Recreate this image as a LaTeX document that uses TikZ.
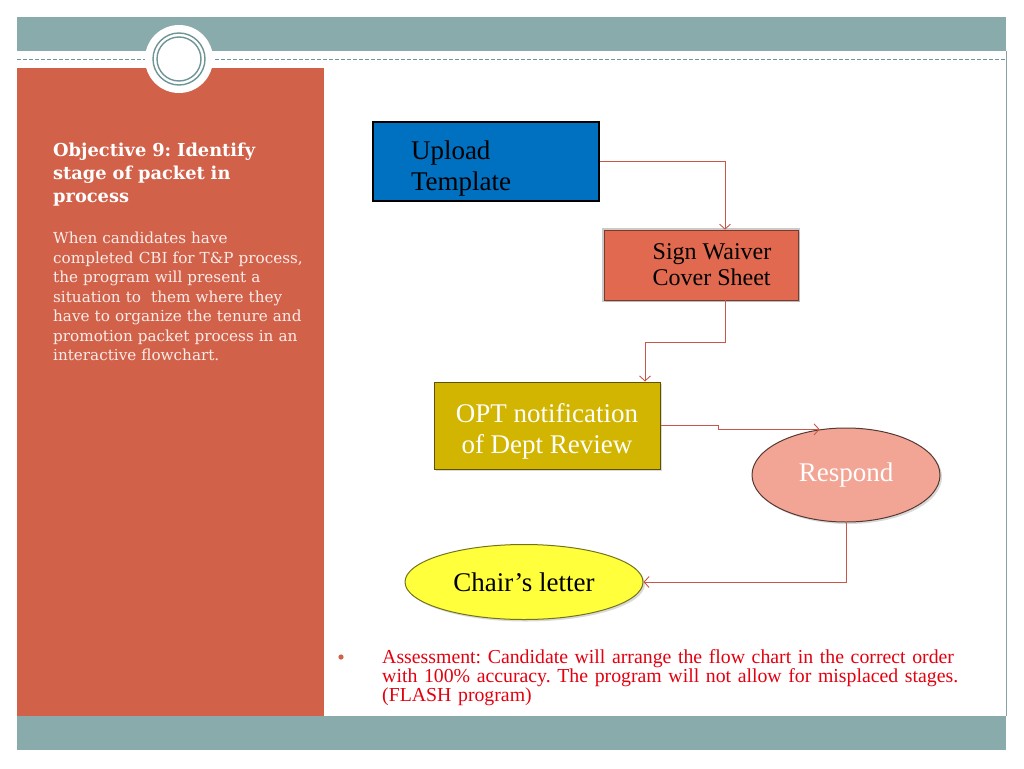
\documentclass[tikz,border=0pt]{standalone}
\usepackage{fontspec}
\setmainfont{Liberation Serif}
\newfontfamily\panelfont{DejaVu Serif}
\usetikzlibrary{arrows.meta,shapes.geometric,shadows}
\definecolor{bandteal}{HTML}{8AABAB}
\definecolor{ringteal}{HTML}{6F9494}
\definecolor{panelred}{HTML}{D2614A}
\definecolor{uploadblue}{HTML}{0070C0}
\definecolor{signred}{HTML}{E0694F}
\definecolor{optgold}{HTML}{D2B500}
\definecolor{resppink}{HTML}{F2A594}
\definecolor{chairyellow}{HTML}{FFFF3C}
\definecolor{linkred}{HTML}{C8574A}
\definecolor{notered}{HTML}{E3000F}
\frenchspacing
\begin{document}
\begin{tikzpicture}[x=1pt,y=-1pt,line join=miter,>={Straight Barb[length=5pt,width=11pt]}]
	\tikzset{box/.style={rectangle,draw,inner sep=0pt,align=center,
			font=\fontsize{27}{31}\selectfont},
		oval/.style={ellipse,draw,inner sep=0pt,line width=1pt,
			font=\fontsize{27}{31}\selectfont},
		shade/.style={drop shadow={opacity=0.3,shadow xshift=2pt,shadow yshift=-2pt}},
		link/.style={draw=linkred,line width=0.9pt,->}
	}
	\useasboundingbox (0,0) rectangle (1024,768);
	% slide frame
	\fill[bandteal] (17,17) rectangle (1006,51);
	\fill[bandteal] (17,716) rectangle (1006,750);
	\draw[bandteal!80!gray,line width=1pt] (1006,51)--(1006,716);
	\fill[panelred] (17,68) rectangle (324,716);
	\draw[ringteal,dash pattern=on 4pt off 2pt,line width=0.8pt] (17,59)--(1006,59);
	\fill[white] (179,59) circle (34pt);
	\draw[ringteal,line width=1.4pt] (179,59) circle (26pt) (179,59) circle (22pt);
	% left panel
	\node[anchor=north west,inner sep=0pt,text width=265pt,align=left,text=white,
		font=\panelfont\bfseries\fontsize{17.8}{23}\selectfont] (objtitle) at (53,143)
		{Objective 9: Identify\\stage of packet in\\process};
	\node[anchor=north west,inner sep=0pt,text width=265pt,align=left,text=white!88!panelred,
		font=\panelfont\fontsize{15.2}{19.5}\selectfont] (objtext) at (53,232)
		{When candidates have\\completed CBI for T\&P process,\\the program will present a\\situation to\ \ them where they\\have to organize the tenure and\\promotion packet process in an\\interactive flowchart.};
	% flow chart
	\node[box,fill=uploadblue,line width=1.8pt,minimum width=226pt,minimum height=79pt,
		text width=150pt,inner xsep=38pt,align=left] (upload) at (486,161.5)
		{\rule{0pt}{32pt}Upload\\Template};
	\node[box,fill=signred,draw=signred!55!black,line width=0.6pt,minimum width=194pt,
		minimum height=70pt,align=left,
		font=\fontsize{24}{26}\selectfont,shade,
		preaction={draw=gray!70,line width=4pt,opacity=0.6}] (sign) at (701,265)
		{\hspace*{22pt}Sign Waiver\\\hspace*{22pt}Cover Sheet};
	\node[box,fill=optgold,draw=optgold!45!black,line width=1pt,minimum width=226pt,
		minimum height=87pt,text=white,shade] (opt) at (547,425.5)
		{\rule{0pt}{30pt}OPT notification\\of Dept Review};
	\node[oval,fill=resppink,draw=resppink!35!black,minimum width=188pt,minimum height=94pt,
		text=white,shade] (resp) at (846,475) {Respond};
	\node[oval,fill=chairyellow,draw=chairyellow!45!black,minimum width=238pt,
		minimum height=75pt,shade] (chair) at (524,582) {Chair’s letter};
	\draw[link] (upload.east) -| ([xshift=24pt]sign.north);
	\draw[link] ([xshift=24pt]sign.south) -- ++(0,42) -| ([xshift=98pt]opt.north);
	\draw[link] (opt.east) -- ++(58,0) |- (resp.120);
	\draw[link] (resp.south) |- (chair.east);
	% assessment note
	\fill[panelred] (341,657) circle (2.6pt);
	\node[anchor=north west,inner sep=0pt,text width=620pt,align=left,text=notered,
		font=\fontsize{19.8}{17.5}\selectfont] (assess) at (382,649)
		{Assessment: Candidate will arrange the flow chart in the correct order\\with 100\% accuracy. The program will not allow for misplaced stages.\\(FLASH program)};
\end{tikzpicture}
\end{document}
